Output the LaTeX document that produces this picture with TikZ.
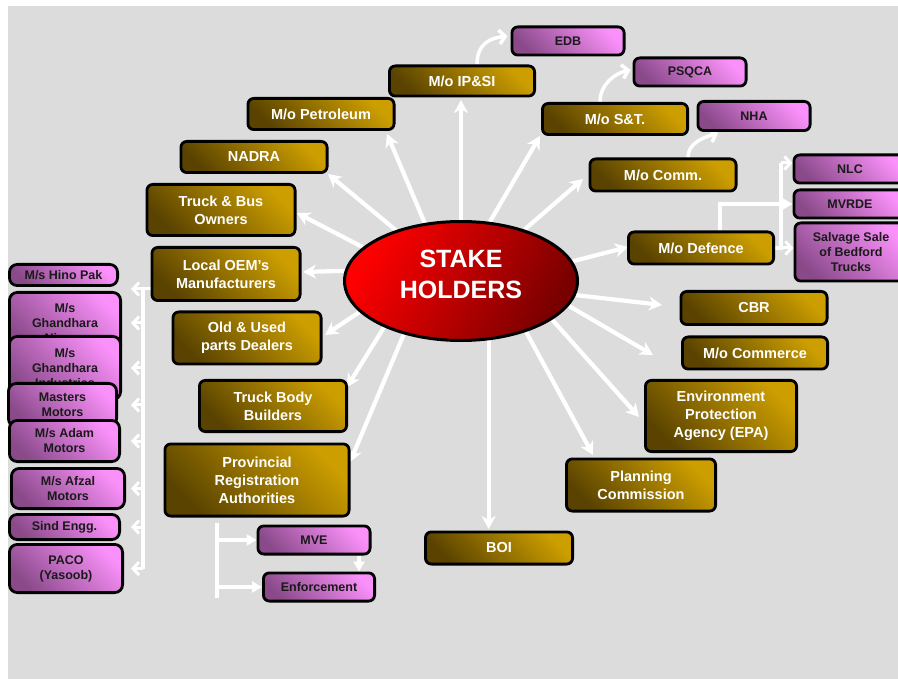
\documentclass[tikz,border=0pt]{standalone}
\usepackage{fontspec}
\setmainfont{Liberation Sans}
\usetikzlibrary{arrows.meta,shapes.geometric,calc}
\definecolor{bgc}{HTML}{DCDCDC}
\definecolor{goldL}{HTML}{CC9E00}
\definecolor{goldD}{HTML}{5A4300}
\definecolor{pinkL}{HTML}{FA90FA}
\definecolor{pinkD}{HTML}{8A4A8A}
\definecolor{redL}{HTML}{FF0000}
\definecolor{redD}{HTML}{780000}
\definecolor{ink}{HTML}{1A1A1A}
\pgfdeclarelayer{back}\pgfdeclarelayer{bg}\pgfsetlayers{back,bg,main}
\tikzset{
  sz/.style 2 args={minimum width=#1pt-2.8pt, minimum height=#2pt-2.8pt},
  box/.style={draw=black, line width=2.8pt, rounded corners=6pt, align=center, inner sep=0pt},
  gold/.style={box, top color=goldL, bottom color=goldD, shading angle=-45, text=white,
    font=\fontsize{14.5}{18}\selectfont\bfseries},
  pink/.style={box, top color=pinkL, bottom color=pinkD, shading angle=-45, text=ink,
    font=\fontsize{12.5}{15}\selectfont\bfseries},
  lpink/.style={pink, rounded corners=8pt},
  wline/.style={draw=white, line width=3.5pt},
  spoke/.style={draw=white, line width=4.2pt, -{Stealth[length=13pt,width=14pt,inset=4pt]}},
  barb/.style={draw=white, line width=3pt, -{Straight Barb[length=6pt,width=13pt]}},
  warrow/.style={draw=white, line width=3.5pt, -{Triangle[length=10pt,width=11pt]}},
  carrow/.style={draw=white, line width=3.5pt, -{Straight Barb[length=6pt,width=14pt]}},
}
\begin{document}
\begin{tikzpicture}[x=1pt,y=-1pt]
\useasboundingbox (0,0) rectangle (898,679);
\begin{pgfonlayer}{back}
  \fill[white] (0,0) rectangle (898,679);
  \fill[bgc] (8,6) rectangle (898,679);
\end{pgfonlayer}
\clip (0,0) rectangle (898,679);

% centre
\node[ellipse, draw=black, line width=3pt, minimum width=233pt, minimum height=119pt,
  inner sep=0pt, top color=redL, bottom color=redD, shading angle=60] (c) at (461,281) {};
\node[text=white, font=\fontsize{25}{31}\selectfont\bfseries, align=center] (sh) at (461,274.5) {STAKE\\HOLDERS};

% gold boxes
\node[gold, sz={148}{33}] (ipsi) at (462,81) {M/o IP\&SI};
\node[gold, sz={149}{34}] (petro) at (321,114) {M/o Petroleum};
\node[gold, sz={149}{34}] (nadra) at (254,157) {NADRA};
\node[gold, sz={151}{54}] (tbo) at (221,210) {Truck \& Bus\\Owners};
\node[gold, sz={151}{56}] (oem) at (226,274) {Local OEM’s\\Manufacturers};
\node[gold, sz={151}{55}] (old) at (247,338) {Old \& Used\\parts Dealers};
\node[gold, sz={150}{54}] (tbb) at (273,406) {Truck Body\\Builders};
\node[gold, sz={187}{75}] (prov) at (257,480) {Provincial\\Registration\\Authorities};
\node[gold, sz={150}{35}] (boi) at (499,548) {BOI};
\node[gold, sz={152}{55}] (plan) at (641,485) {Planning\\Commission};
\node[gold, sz={154}{74}] (epa) at (721,416) {Environment\\Protection\\Agency (EPA)};
\node[gold, sz={148}{35}] (comm) at (755,353) {M/o Commerce};
\node[gold, sz={149}{36}] (cbr) at (754,308) {CBR};
\node[gold, sz={148}{35}] (def) at (701,248) {M/o Defence};
\node[gold, sz={149}{35}] (mcomm) at (663,175) {M/o Comm.};
\node[gold, sz={148}{34}] (st) at (615,119) {M/o S\&T.};

% pink boxes right / bottom
\node[pink, sz={115}{31}] (edb) at (568,41) {EDB};
\node[pink, sz={115}{31}] (psqca) at (690,72) {PSQCA};
\node[pink, sz={115}{32}] (nha) at (754,116) {NHA};
\node[pink, sz={115}{31}] (nlc) at (850,169) {NLC};
\node[pink, sz={115}{31}] (mvrde) at (850,204) {MVRDE};
\node[pink, sz={115}{61}] (salv) at (851,252) {Salvage Sale\\of Bedford\\Trucks};
\node[pink, sz={115}{31}] (mve) at (314,540) {MVE};
\node[pink, sz={114}{31}] (enf) at (319,587) {Enforcement};

% pink boxes left column
\node[lpink, sz={111}{24}] (hino) at (63.5,275) {M/s Hino Pak};
\node[lpink, sz={114}{64}] (ghn) at (65,323) {M/s\\Ghandhara\\Nissan};
\node[lpink, sz={114}{66}] (ghi) at (65,368) {M/s\\Ghandhara\\Industries};
\node[lpink, sz={111}{46}] (mast) at (62.5,405) {Masters\\Motors};
\node[lpink, sz={113}{44}] (adam) at (64.5,441) {M/s Adam\\Motors};
\node[lpink, sz={116}{43}] (afzal) at (68,488.5) {M/s Afzal\\Motors};
\node[lpink, sz={113}{28}] (sind) at (64.5,527) {Sind Engg.};
\node[lpink, sz={116}{51}] (paco) at (66,568.5) {PACO\\(Yasoob)};

% tip coordinates
\coordinate (t1) at (461,100);
\coordinate (t2) at (387,134);
\coordinate (t3) at (328,174);
\coordinate (t4) at (297,213);
\coordinate (t5) at (303,272);
\coordinate (t6) at (325,335);
\coordinate (t7) at (347,387);
\coordinate (t8) at (350,462);
\coordinate (t9) at (488,529);
\coordinate (t10) at (593,455);
\coordinate (t11) at (639,417);
\coordinate (t12) at (653,355);
\coordinate (t13) at (662,305);
\coordinate (t14) at (628,247);
\coordinate (t15) at (583,179);
\coordinate (t16) at (540,136);

\coordinate (lt) at (143,289);
\coordinate (lb) at (143,569);
\coordinate (dt) at (781,163);
\coordinate (db) at (781,248);
\coordinate (pa) at (217,523);
\coordinate (pb) at (217,598);

\begin{pgfonlayer}{bg}
  \draw[spoke] (c.90) -- (c.90 |- t1);
  \draw[spoke] (c.122) -- (t2);
  \draw[spoke] (c.142) -- (t3);
  \draw[spoke] (c.161) -- (t4);
  \draw[spoke] (c.175) -- (t5);
  \draw[spoke] (c.197) -- (t6);
  \draw[spoke] (c.211) -- (t7);
  \draw[spoke] (c.223) -- (t8);
  \draw[spoke] (c.295) -- (c.295 |- t9);
  \draw[spoke] (c.322) -- (t10);
  \draw[spoke] (c.337) -- (t11);
  \draw[spoke] (c.347) -- (t12);
  \draw[spoke] (c.353) -- (t13);
  \draw[spoke] (c.10) -- (t14);
  \draw[spoke] (c.39) -- (t15);
  \draw[spoke] (c.64) -- (t16);

  % curved arrows
  \draw[carrow] ([xshift=15pt]ipsi.north) .. controls +(0,-22) and +(-16,2) .. ([xshift=-3pt,yshift=5pt]edb.west);
  \draw[carrow] ([xshift=-15pt]st.north) .. controls +(0,-18) and +(-15,3) .. ([xshift=-2pt,yshift=2pt]psqca.west);
  \draw[carrow] ([xshift=25pt]mcomm.north) .. controls +(0,-14) and +(-16,5) .. ([xshift=-36pt,yshift=-1pt]nha.south);

  % left column
  \draw[wline] (lt) -- (lb);
  \draw[barb] ([yshift=-15pt]oem.west) -- (lt) -- ++(-12,0);
  \foreach \n in {ghn,ghi,mast,adam,afzal,sind,paco}
    \draw[barb] (lt |- \n) -- ++(-12,0);

  % defence
  \draw[wline] (def.east) -- (db) -- (dt);
  \draw[barb] (dt) -- (nlc.west |- dt);
  \draw[barb] (db) -- (salv.west |- db);
  \draw[warrow] ([xshift=19pt]def.north) |- (mvrde.west);

  % provincial
  \draw[wline] (pa) -- (pb);
  \draw[warrow] (pa |- mve) -- (mve.west);
  \draw[warrow] (pa |- enf) -- (enf.west);
  \draw[warrow] ([xshift=45pt]mve.south) -- ([xshift=40pt]enf.north);
\end{pgfonlayer}
\end{tikzpicture}
\end{document}
